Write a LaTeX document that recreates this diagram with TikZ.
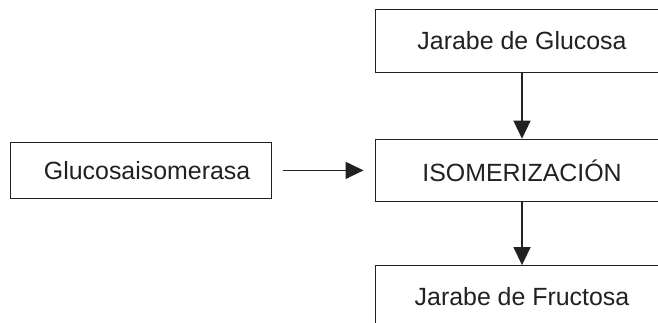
\documentclass[tikz,border=0pt]{standalone}
\usepackage{fontspec}
\setmainfont{Liberation Sans}
\usetikzlibrary{arrows.meta, positioning}
\definecolor{ink}{rgb}{0.14,0.12,0.13}

\begin{document}
\begin{tikzpicture}[
    node distance=66bp,
    stage/.style={
        draw=ink,
        line width=0.9pt,
        text=ink,
        minimum width=294bp,
        minimum height=62.5bp,
        font=\fontsize{25}{30}\selectfont
    },
    enzyme/.style={
        stage,
        minimum width=261bp,
        minimum height=56bp
    },
    arrow/.style={-{Triangle[length=18bp, width=17bp]}, draw=ink, fill=ink, line width=1.5pt}
]

\clip (0,0) rectangle (658bp,323bp);

\node[stage] (glucosa) at (522bp,282bp) {Jarabe de Glucosa};
\node[stage, below=of glucosa] (isomerizacion) {ISOMERIZACIÓN};
\node[stage, below=63bp of isomerizacion] (fructosa) {Jarabe de Fructosa};
\node[enzyme, left=103bp of isomerizacion] (enzima) {\hspace*{13bp}Glucosaisomerasa};

\draw[arrow] (glucosa) -- (isomerizacion);
\draw[arrow] (isomerizacion) -- (fructosa);
\draw[arrow, shorten <=11bp, shorten >=11bp] (enzima) -- (isomerizacion);

\end{tikzpicture}
\end{document}
